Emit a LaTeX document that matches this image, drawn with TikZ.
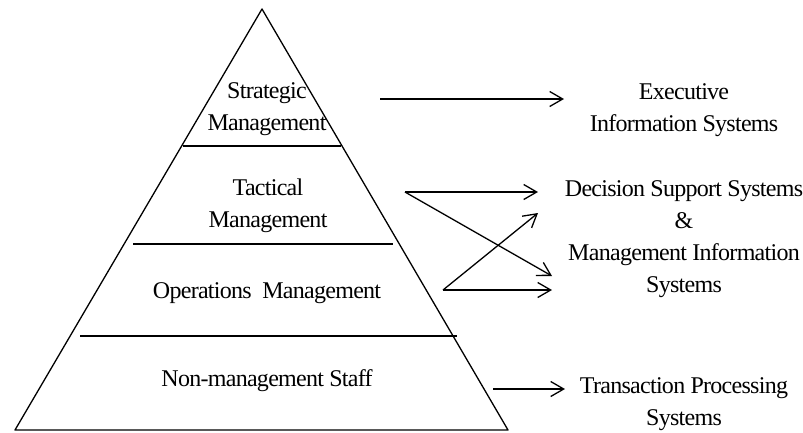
\documentclass[tikz,border=0pt]{standalone}
\usepackage{fontspec}
\setmainfont{Liberation Serif}[LetterSpace=-3]
\usetikzlibrary{arrows.meta}
\begin{document}
\begin{tikzpicture}[x=1pt,y=-1pt,
  edge/.style={line width=1.3pt},
  conn/.style={line width=1.3pt,-{Straight Barb[length=13pt,width=15pt,line width=1.3pt]}},
  lbl/.style={align=center,inner sep=0pt,font=\fontsize{24}{32}\selectfont}]
\useasboundingbox (0,0) rectangle (803,432);
% pyramid
\coordinate (apex) at (262,9);
\coordinate (bl) at (15,430);
\coordinate (br) at (508,430);
\draw[edge,line join=round] (bl) -- (apex) -- (br) -- cycle;
\coordinate (l1a) at (183,146); \coordinate (l1b) at (341,146);
\coordinate (l2a) at (133,244); \coordinate (l2b) at (393,244);
\coordinate (l3a) at (80,336);  \coordinate (l3b) at (457,336);
\draw[edge] (l1a) -- (l1b);
\draw[edge] (l2a) -- (l2b);
\draw[edge] (l3a) -- (l3b);
% level labels
\node[lbl] (strat) at (267,109) {Strategic\\Management};
\node[lbl] (tact) at (268,206) {Tactical\\Management};
\node[lbl] (ops) at (267,293) {Operations\ \ Management};
\node[lbl] (non) at (267,381) {Non-management Staff};
% systems
\node[lbl] (exe) at (684,110) {Executive\\Information Systems};
\node[lbl] (dss) at (684,239) {Decision Support Systems\\\&\\Management Information\\Systems};
\node[lbl] (tps) at (684,404) {Transaction Processing\\Systems};
% arrows
\coordinate (s1) at (380,99);  \coordinate (e1) at (564,99);
\coordinate (s2) at (405,192); \coordinate (e2) at (538,192);
\coordinate (e3) at (552,276);
\coordinate (s4) at (443,290); \coordinate (e4) at (552,290);
\coordinate (e5) at (538,213);
\coordinate (s6) at (493,389); \coordinate (e6) at (565,389);
\draw[conn] (s1) -- (e1);
\draw[conn] (s2) -- (e2);
\draw[conn] (s2) -- (e3);
\draw[conn] (s4) -- (e4);
\draw[conn] (s4) -- (e5);
\draw[conn] (s6) -- (e6);
\end{tikzpicture}
\end{document}
